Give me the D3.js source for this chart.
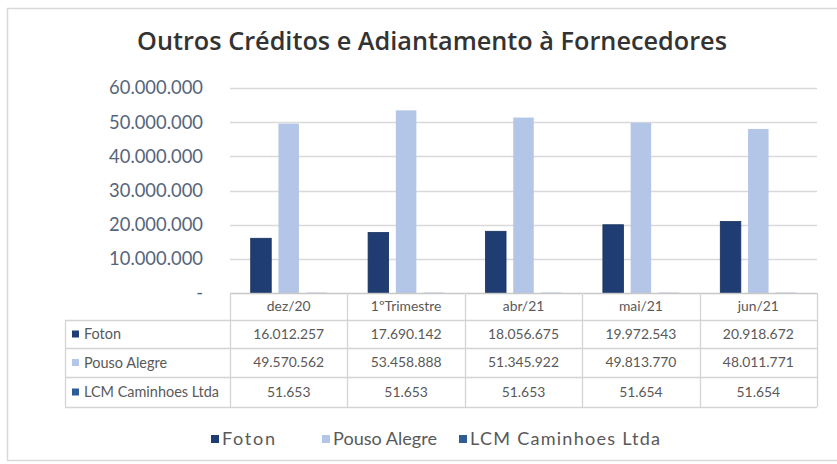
<!DOCTYPE html>
<html><head><meta charset="utf-8">
<script src="https://cdn.jsdelivr.net/npm/d3@7"></script>
<style>
html,body{margin:0;padding:0;background:#fff;}
svg{display:block;font-family:Lato, "Open Sans", sans-serif;}
</style></head>
<body>
<svg id="c" width="837" height="464"></svg>
<script>
const categories = ["dez/20", "1ºTrimestre", "abr/21", "mai/21", "jun/21"];
const seriesNames = ["Foton", "Pouso Alegre", "LCM Caminhoes Ltda"];
const foton = [16012257, 17690142, 18056675, 19972543, 20918672];
const pousoAlegre = [49570562, 53458888, 51345922, 49813770, 48011771];
const lcm = [51653, 51653, 51653, 51654, 51654];
const yTicks = [0, 10000000, 20000000, 30000000, 40000000, 50000000, 60000000];
const colors = ["#1f3d73", "#b4c6e7", "#2e5c97"];
const title = "Outros Créditos e Adiantamento à Fornecedores";

const seriesValues = [foton, pousoAlegre, lcm];
const loc = d3.formatLocale({decimal: ",", thousands: ".", grouping: [3], currency: ["R$", ""]});
const fmt = loc.format(",d");
const tickFmt = v => v === 0 ? "-" : fmt(v);

const svg = d3.select("#c");
const plotL = 230, plotR = 817, plotT = 88, plotB = 293;
const tableL = 65;
const rowEdges = [293, 320, 348, 377, 407];

function fit(sel, target) {
  const n = sel.node();
  const fs = parseFloat(sel.attr("font-size"));
  const w = n.getComputedTextLength();
  sel.attr("font-size", (fs * target / w).toFixed(2));
  return fs * target / w;
}
function measureSize(str, fs, target, weight, family) {
  const t = svg.append("text").attr("font-size", fs).attr("font-weight", weight || 400).text(str);
  if (family) t.attr("font-family", family);
  const s = fit(t, target);
  t.remove();
  return s;
}

// outer border
svg.append("rect").attr("x", 7.5).attr("y", 8.5).attr("width", 840).attr("height", 452)
  .attr("fill", "#fff").attr("stroke", "#d9d9d9").attr("stroke-width", 1.5);

// title
const tt = svg.append("text").attr("x", 432).attr("y", 50).attr("text-anchor", "middle")
  .attr("font-size", 24).attr("font-weight", 600).attr("font-family", "'Open Sans', Lato, sans-serif")
  .attr("fill", "#333333").text(title);
fit(tt, 590);

const x0 = d3.scaleBand().domain(categories).range([plotL, plotR]).padding(0);
const y = d3.scaleLinear().domain([0, 60000000]).range([plotB, plotT]);
const bw = x0.bandwidth();
const x1 = d3.scaleBand().domain(seriesNames).range([bw / 2 - 38, bw / 2 + 38]).paddingInner(0.26).paddingOuter(0);

// gridlines
svg.append("g").selectAll("line").data(yTicks.filter(d => d > 0)).join("line")
  .attr("x1", plotL).attr("x2", plotR)
  .attr("y1", d => Math.round(y(d)) + 0.5).attr("y2", d => Math.round(y(d)) + 0.5)
  .attr("stroke", "#d9d9d9").attr("stroke-width", 1.3);

// y axis labels
const tickSize = measureSize("60.000.000", 18, 94);
const yAxis = d3.axisLeft(y).tickValues(yTicks).tickFormat(tickFmt).tickSize(0).tickPadding(0);
const gy = svg.append("g").attr("transform", `translate(${203},0)`).call(yAxis);
gy.select(".domain").remove();
gy.selectAll("text").attr("font-size", tickSize).attr("fill", "#56657b").attr("font-family", "Lato, 'Open Sans', sans-serif");

// bars
const groups = svg.append("g").selectAll("g").data(categories).join("g")
  .attr("transform", d => `translate(${x0(d)},0)`);
groups.selectAll("rect").data((c, i) => seriesNames.map((s, k) => ({s, k, v: seriesValues[k][i]}))).join("rect")
  .attr("x", d => x1(d.s)).attr("width", x1.bandwidth())
  .attr("y", d => y(d.v)).attr("height", d => plotB - y(d.v))
  .attr("fill", d => colors[d.k])
  .attr("stroke", d => d.k === 0 ? "#17305c" : "none").attr("stroke-width", 0.8);

// data table
const tg = svg.append("g");
const lineColor = "#d4d4d4";
rowEdges.forEach((ry, i) => {
  tg.append("line").attr("x1", i === 0 ? plotL : tableL).attr("x2", plotR)
    .attr("y1", ry + 0.5).attr("y2", ry + 0.5).attr("stroke", i === 0 ? "#c8c8c8" : lineColor).attr("stroke-width", 1.3);
});
const colEdges = x0.domain().map(c => x0(c)).concat([plotR]);
colEdges.forEach(cx => {
  tg.append("line").attr("x1", Math.round(cx) + 0.5).attr("x2", Math.round(cx) + 0.5)
    .attr("y1", rowEdges[0]).attr("y2", rowEdges[4]).attr("stroke", lineColor).attr("stroke-width", 1.3);
});
tg.append("line").attr("x1", tableL + 0.5).attr("x2", tableL + 0.5)
  .attr("y1", rowEdges[1]).attr("y2", rowEdges[4]).attr("stroke", lineColor).attr("stroke-width", 1.3);

const valSize = measureSize("16.012.257", 13, 71);
const labSize = measureSize("LCM Caminhoes Ltda", 13, 135);
const textCol = "#595959";
tg.selectAll("text.hdr").data(categories).join("text").attr("class", "hdr")
  .attr("x", d => x0(d) + bw / 2).attr("y", (rowEdges[0] + rowEdges[1]) / 2 + valSize * 0.35)
  .attr("text-anchor", "middle").attr("font-size", valSize).attr("fill", textCol).text(d => d);
seriesNames.forEach((s, k) => {
  const cy = (rowEdges[k + 1] + rowEdges[k + 2]) / 2;
  tg.append("rect").attr("x", 72).attr("y", cy - 3.5).attr("width", 7).attr("height", 7).attr("fill", colors[k]);
  tg.append("text").attr("x", 84).attr("y", cy + labSize * 0.35).attr("font-size", labSize)
    .attr("fill", textCol).text(s);
  tg.selectAll("text.v" + k).data(categories).join("text").attr("class", "v" + k)
    .attr("x", d => x0(d) + bw / 2).attr("y", cy + valSize * 0.35)
    .attr("text-anchor", "middle").attr("font-size", valSize).attr("fill", textCol)
    .text((d, i) => fmt(seriesValues[k][i]));
});

// legend
const legSize = measureSize("Pouso Alegre", 18, 104);
const legX = [211, 322, 459];
const legW = [53, 104, 190];
const legY = 439;
const lg = svg.append("g");
seriesNames.forEach((s, k) => {
  lg.append("rect").attr("x", legX[k]).attr("y", legY - 4).attr("width", 8).attr("height", 8).attr("fill", colors[k]);
  lg.append("text").attr("x", legX[k] + 11).attr("y", legY + legSize * 0.35).attr("font-size", legSize)
    .attr("textLength", legW[k]).attr("lengthAdjust", "spacing")
    .attr("fill", textCol).text(s);
});
</script>
</body></html>
